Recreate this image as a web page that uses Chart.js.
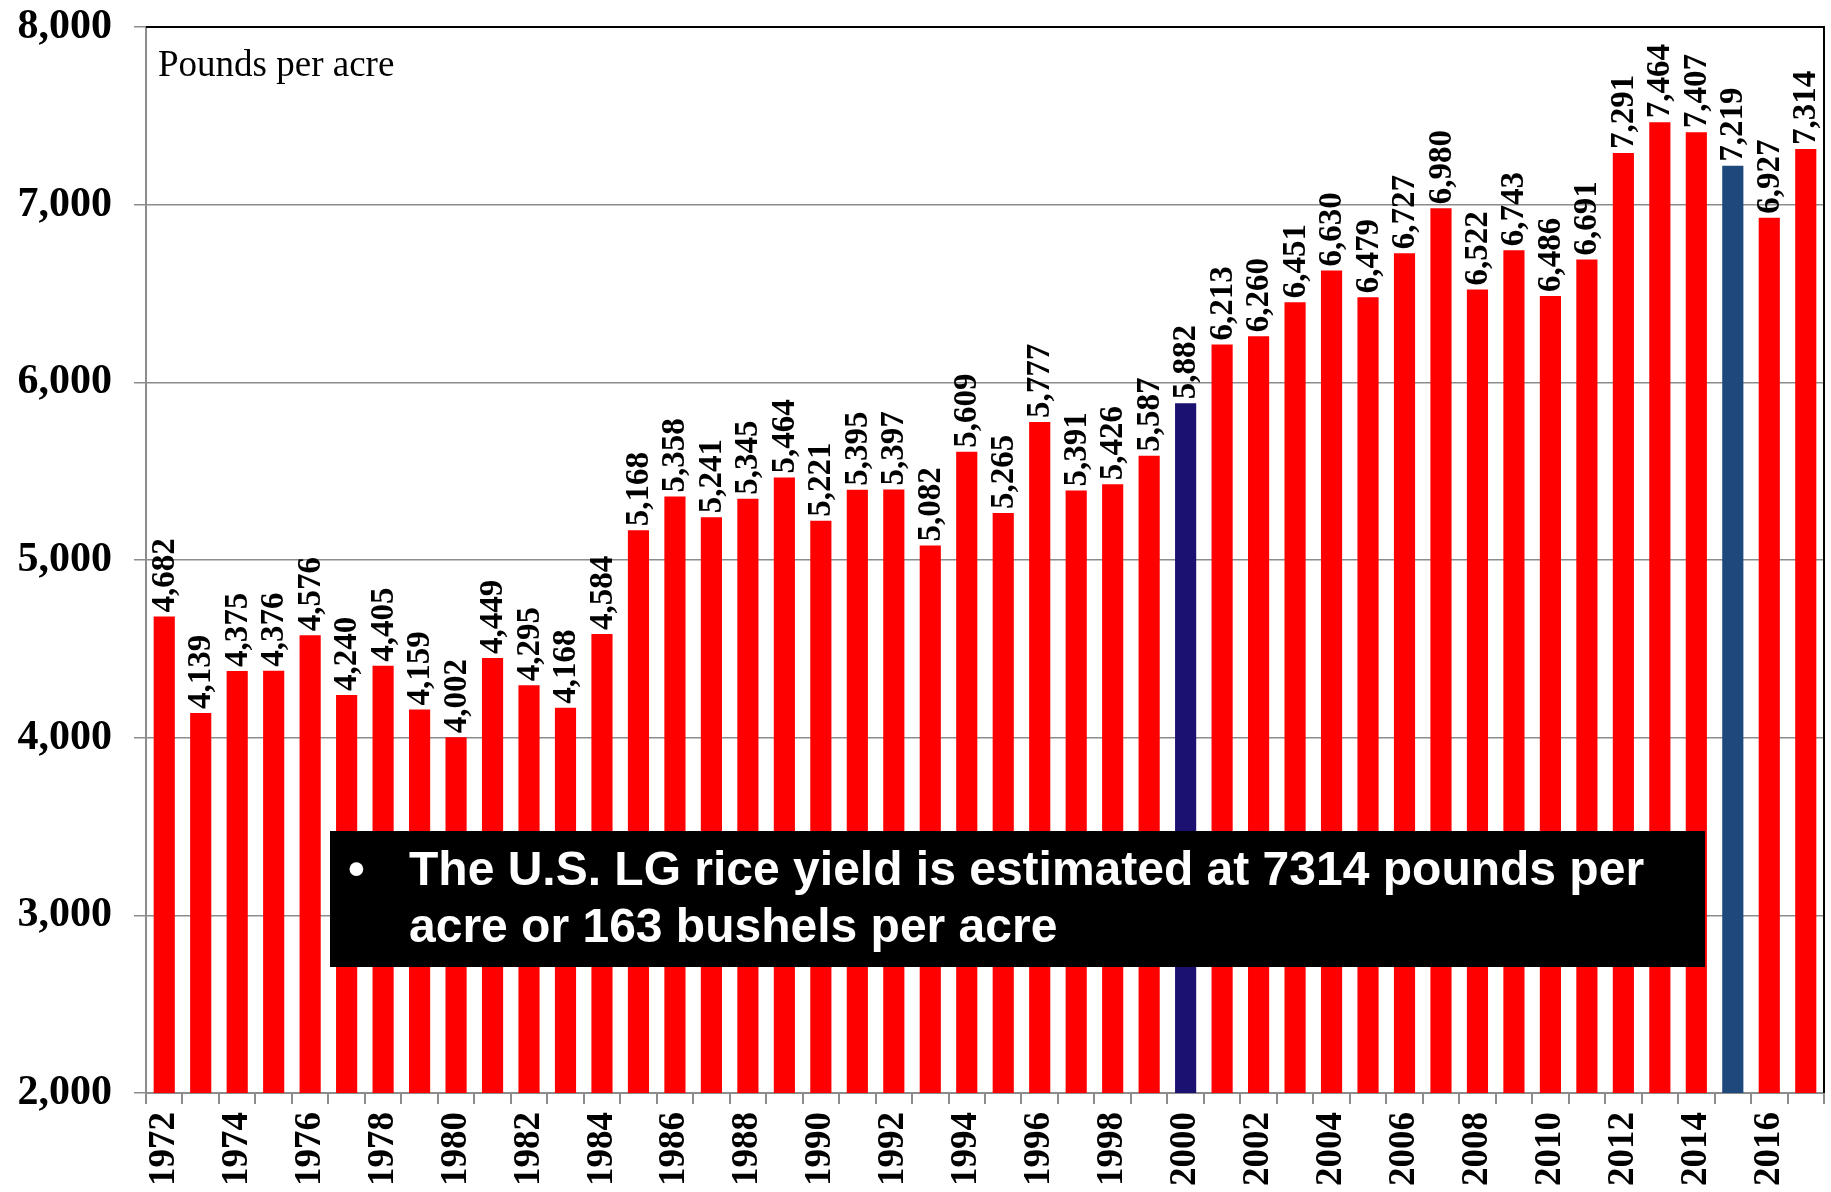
<!DOCTYPE html>
<html>
<head>
<meta charset="utf-8">
<script src="https://cdn.jsdelivr.net/npm/chart.js@4/dist/chart.umd.min.js"></script>
<style>
  html, body { margin: 0; padding: 0; background: #fff; }
  #wrap { width: 1831px; height: 1192px; }
</style>
</head>
<body>
<div id="wrap"><canvas id="yieldChart" width="1831" height="1192"></canvas></div>
<script>
const years = ["1972","1973","1974","1975","1976","1977","1978","1979","1980","1981",
  "1982","1983","1984","1985","1986","1987","1988","1989","1990","1991",
  "1992","1993","1994","1995","1996","1997","1998","1999","2000","2001",
  "2002","2003","2004","2005","2006","2007","2008","2009","2010","2011",
  "2012","2013","2014","2015","2016","2017"];
const yields = [4682, 4139, 4375, 4376, 4576, 4240, 4405, 4159, 4002, 4449,
  4295, 4168, 4584, 5168, 5358, 5241, 5345, 5464, 5221, 5395,
  5397, 5082, 5609, 5265, 5777, 5391, 5426, 5587, 5882, 6213,
  6260, 6451, 6630, 6479, 6727, 6980, 6522, 6743, 6486, 6691,
  7291, 7464, 7407, 7219, 6927, 7314];
const highlight = { "2000": "#1a1170", "2015": "#1f497d" };
const yTicks = [2000, 3000, 4000, 5000, 6000, 7000, 8000];
const noteLines = ["The U.S. LG rice yield is estimated at 7314 pounds per", "acre or 163 bushels per acre"];

const fmt = v => v.toLocaleString("en-US");
const serif = "'Liberation Serif', 'Times New Roman', serif";

const barLabels = {
  id: "barLabels",
  afterDatasetsDraw(chart) {
    const ctx = chart.ctx;
    const meta = chart.getDatasetMeta(0);
    ctx.save();
    ctx.font = "bold 33px " + serif;
    ctx.fillStyle = "#000";
    ctx.textAlign = "left";
    ctx.textBaseline = "middle";
    meta.data.forEach((bar, i) => {
      ctx.save();
      ctx.translate(bar.x + 1, bar.y - 4);
      ctx.rotate(-Math.PI / 2);
      ctx.fillText(fmt(yields[i]), 0, 0);
      ctx.restore();
    });
    ctx.restore();
  }
};

const frame = {
  id: "frame",
  afterDraw(chart) {
    const { ctx, chartArea: a } = chart;
    ctx.save();
    ctx.strokeStyle = "#000";
    ctx.lineWidth = 2;
    ctx.beginPath();
    ctx.moveTo(a.left, a.top);
    ctx.lineTo(a.right, a.top);
    ctx.lineTo(a.right, a.bottom);
    ctx.stroke();

    // units note
    ctx.font = "37px " + serif;
    ctx.fillStyle = "#000";
    ctx.textBaseline = "middle";
    ctx.fillText("Pounds per acre", a.left + 12, a.top + 39);

    // black text box
    ctx.fillStyle = "#000";
    ctx.fillRect(330, 831, 1375, 136);
    ctx.fillStyle = "#fff";
    ctx.font = "bold 48px 'Liberation Sans', Arial, sans-serif";
    ctx.fillText("\u2022", 348, 872);
    ctx.fillText(noteLines[0], 409, 872);
    ctx.fillText(noteLines[1], 409, 929);
    ctx.restore();
  }
};

new Chart(document.getElementById("yieldChart"), {
  type: "bar",
  data: {
    labels: years,
    datasets: [{
      label: "Yield",
      data: yields,
      backgroundColor: years.map(y => highlight[y] || "#ff0000"),
      barPercentage: 0.58,
      categoryPercentage: 1.0
    }]
  },
  options: {
    responsive: false,
    animation: false,
    layout: { padding: { top: 27, right: 7, left: 0, bottom: 0 } },
    plugins: {
      legend: { display: false },
      tooltip: { enabled: false }
    },
    scales: {
      x: {
        offset: true,
        grid: {
          offset: true,
          drawOnChartArea: false,
          color: "#8c8c8c",
          lineWidth: 2,
          tickLength: 11
        },
        border: { color: "#8c8c8c", width: 2 },
        ticks: {
          autoSkip: false,
          maxRotation: 90,
          minRotation: 90,
          padding: 8,
          color: "#000",
          font: { family: serif, size: 37, weight: "bold" },
          callback: (v, i) => (i % 2 === 0 ? years[i] : "")
        },
        afterFit: s => { s.height = 99; s.paddingLeft = 0; s.paddingRight = 0; }
      },
      y: {
        min: 2000,
        max: 8000,
        afterBuildTicks: s => { s.ticks = yTicks.map(v => ({ value: v })); },
        grid: {
          color: "#8c8c8c",
          lineWidth: 1.5,
          tickLength: 12
        },
        border: { color: "#8c8c8c", width: 2 },
        ticks: {
          padding: 22,
          color: "#000",
          font: { family: serif, size: 42, weight: "bold" },
          callback: v => fmt(v)
        },
        afterFit: s => { s.width = 146; s.paddingTop = 0; s.paddingBottom = 0; }
      }
    }
  },
  plugins: [barLabels, frame]
});
</script>
</body>
</html>
